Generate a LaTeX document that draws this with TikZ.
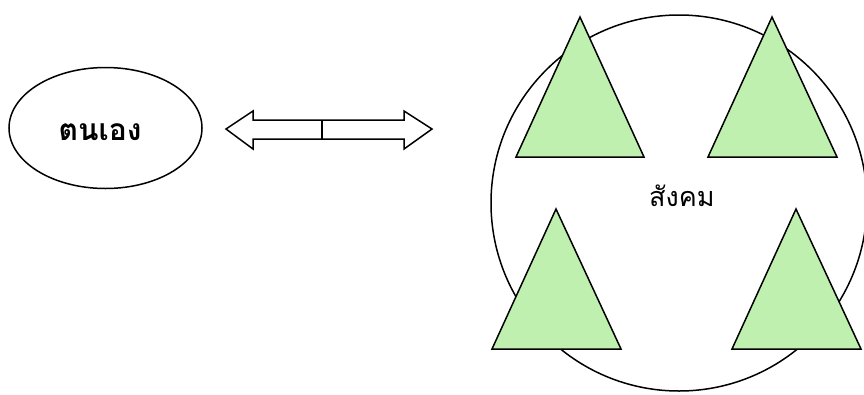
\documentclass[tikz,border=0pt]{standalone}
\usepackage{fontspec}
\newfontfamily\thaifont[Script=Thai]{Loma}
\usetikzlibrary{shapes.geometric}
\definecolor{trigreen}{RGB}{192,240,176}
\tikzset{
  outline/.style={draw=black, line width=1.5pt},
  tri/.style={outline, fill=trigreen, line join=miter},
}
\begin{document}
\begin{tikzpicture}[x=1pt,y=-1pt]
\useasboundingbox (0,0) rectangle (864,394);
% self ellipse
\node[outline, ellipse, minimum width=193pt, minimum height=121pt, inner sep=0pt] (self) at (105.5,128) {};
\node[font=\thaifont\bfseries\fontsize{30}{34}\selectfont] (selflabel) at (100,132) {ตนเอง};
% double arrow
\coordinate (ltip) at (226,129);
\coordinate (rtip) at (432,129);
\draw[outline, line join=miter] (ltip) -- (253,111) -- (253,120) -- (404,120) -- (404,111) -- (rtip) -- (404,149) -- (404,139) -- (253,139) -- (253,149) -- cycle;
\draw[outline] (322,120) -- (322,139);
% society circle
\node[outline, circle, minimum size=376pt, inner sep=0pt] (society) at (679,203) {};
\node[font=\thaifont\fontsize{27}{31}\selectfont] (soclabel) at (682,196) {สังคม};
% triangles
\draw[tri] (580,17) -- (644,157) -- (516,157) -- cycle;
\draw[tri] (772,17) -- (837,157) -- (708,157) -- cycle;
\draw[tri] (556,209) -- (621,349) -- (492,349) -- cycle;
\draw[tri] (796,209) -- (861,349) -- (732,349) -- cycle;
\end{tikzpicture}
\end{document}
